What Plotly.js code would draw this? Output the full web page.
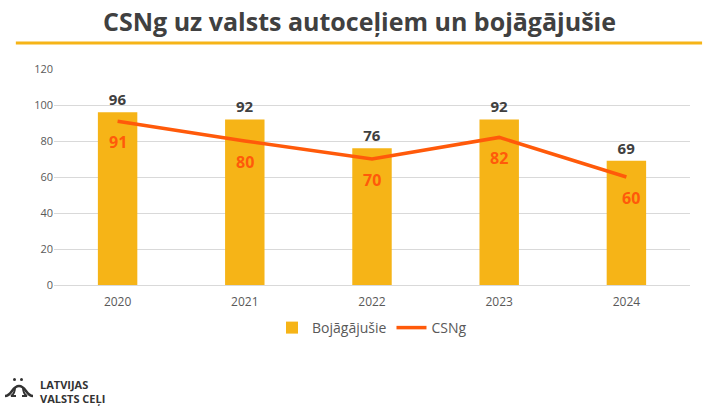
<!DOCTYPE html>
<html><head><meta charset="utf-8">
<script src="https://cdn.plot.ly/plotly-3.0.1.min.js"></script>
<style>html,body{margin:0;padding:0;background:#fff}#c{width:719px;height:409px}</style>
</head><body><div id="c"></div>
<script>
const years = ['2020','2021','2022','2023','2024'];
const bojagajusie = [96, 92, 76, 92, 69];
const csng = [91, 80, 70, 82, 60];
const yTicks = [0,20,40,60,80,100,120];

const font = '"Open Sans", Lato, sans-serif';
const traces = [
  {type:'bar', name:'Bojāgājušie', x:years, y:bojagajusie, width:0.31,
   marker:{color:'#F6B417'},
   text:bojagajusie.map(String), textposition:'outside', cliponaxis:false,
   textfont:{family:font, size:15, color:'#404040', weight:'bold'}},
  {type:'scatter', mode:'lines', name:'CSNg', x:years, y:csng,
   line:{color:'#FF5A0A', width:3.5}}
];
const csngLabels = years.map((yr, i) => ({
  x: i, y: csng[i], xref:'x', yref:'y', showarrow:false, yshift:-21, xshift: i === years.length-1 ? 5 : 0,
  text:'<b>' + csng[i] + '</b>', font:{family:font, size:16, color:'#FF5A0A'}
}));
const px = (x) => x - 54, py = (y) => 285 - y;
const P = (x, y) => px(x) + ',' + py(y);
const iconPath = 'M ' + P(5,396) + ' C ' + P(12,396) + ' ' + P(12,386) + ' ' + P(19,386) +
  ' C ' + P(26,386) + ' ' + P(26,396) + ' ' + P(33,396);
const legsPath = 'M ' + P(15,387) + ' Q ' + P(15,394) + ' ' + P(11,396) + ' L ' + P(16,396) +
  ' M ' + P(23,387) + ' Q ' + P(23,394) + ' ' + P(27,396) + ' L ' + P(22,396);
const layout = {
  width:719, height:409,
  margin:{l:54, r:29, t:69, b:124},
  paper_bgcolor:'#fff', plot_bgcolor:'#fff',
  font:{family:font, color:'#595959'},
  title:{text:'<b>CSNg uz valsts autoceļiem un bojāgājušie</b>', x:0.5, xanchor:'center', y:0.945, yanchor:'middle',
         font:{family:font, size:25, color:'#404040'}},
  xaxis:{type:'category', range:[-0.5, 4.5], tickfont:{size:12, color:'#595959'}, showline:false, ticks:'', showgrid:false, ticklabelstandoff:8},
  yaxis:{range:[0,120], tickvals:yTicks, tickfont:{size:11, color:'#595959'}, gridcolor:'#D9D9D9', gridwidth:1,
         zeroline:true, zerolinecolor:'#D9D9D9', ticks:'', ticklen:0, showline:false},
  showlegend:true,
  legend:{orientation:'h', x:0.5, xanchor:'center', y:-0.125, yanchor:'top', font:{size:14, color:'#595959'},
          traceorder:'normal', itemwidth:30},
  shapes:[
    {type:'line', xref:'paper', yref:'paper', x0:-0.06, x1:1.019, y0:1.12, y1:1.12, line:{color:'#F6B417', width:3}},
    {type:'path', xref:'paper', yref:'paper', xsizemode:'pixel', ysizemode:'pixel', xanchor:0, yanchor:0,
     path:iconPath, line:{color:'#333', width:2.5}},
    {type:'path', xref:'paper', yref:'paper', xsizemode:'pixel', ysizemode:'pixel', xanchor:0, yanchor:0,
     path:legsPath, line:{color:'#333', width:2}},
    {type:'circle', xref:'paper', yref:'paper', xsizemode:'pixel', ysizemode:'pixel', xanchor:0, yanchor:0,
     x0:px(13), x1:px(16), y0:py(378), y1:py(381), fillcolor:'#333', line:{width:0}},
    {type:'circle', xref:'paper', yref:'paper', xsizemode:'pixel', ysizemode:'pixel', xanchor:0, yanchor:0,
     x0:px(20), x1:px(23), y0:py(378), y1:py(381), fillcolor:'#333', line:{width:0}}
  ],
  annotations:[
    {xref:'paper', yref:'paper', x:(38-54)/636, y:(285-375)/216, xanchor:'left', yanchor:'top', align:'left', showarrow:false,
     text:'<b>LATVIJAS<br>VALSTS CEĻI</b>', font:{family:font, size:11, color:'#333'}}
  ].concat(csngLabels)
};
Plotly.newPlot('c', traces, layout, {displayModeBar:false, staticPlot:true});
</script></body></html>
